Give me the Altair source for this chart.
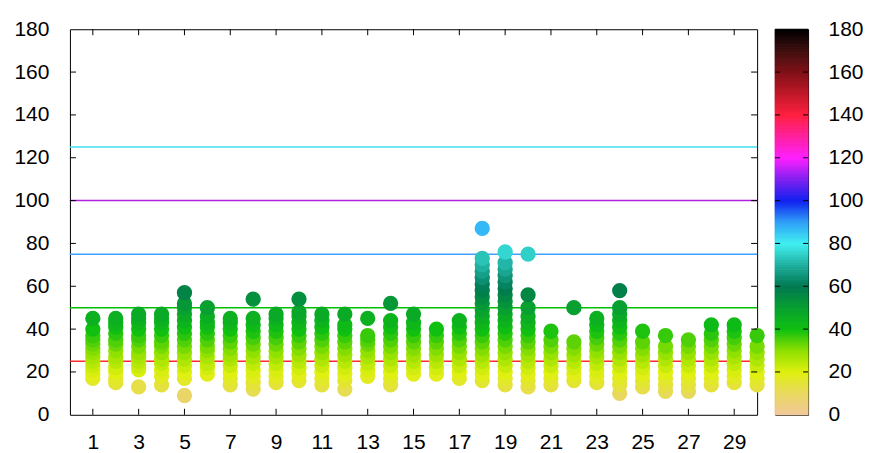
import altair as alt
import pandas as pd
import numpy as np

# ---- data ----
days = list(range(1, 31))
readings = [
    [17, 19, 21, 23, 25, 27, 29, 31, 33, 35, 37, 40, 45],             # 1
    [15, 17, 20, 22, 25, 27, 30, 33, 35, 38, 41, 43, 45],             # 2
    [13, 21, 23, 25, 27, 29, 32, 35, 37, 40, 43, 45, 47],             # 3
    [14, 18, 21, 24, 26, 29, 32, 34, 37, 40, 43, 45, 47],             # 4
    [9, 17, 20, 23, 26, 29, 32, 35, 38, 41, 44, 47, 50, 52, 57],      # 5
    [19, 22, 24, 27, 30, 32, 35, 38, 41, 43, 46, 50],                 # 6
    [14, 17, 20, 23, 26, 28, 31, 34, 37, 40, 43, 45],                 # 7
    [12, 15, 18, 21, 24, 27, 30, 33, 36, 39, 42, 45, 54],             # 8
    [15, 18, 21, 24, 27, 30, 33, 36, 39, 42, 45, 47],                 # 9
    [16, 19, 22, 25, 28, 31, 34, 37, 40, 43, 46, 48, 54],             # 10
    [14, 17, 20, 23, 26, 29, 32, 35, 38, 41, 44, 47],                 # 11
    [12, 16, 19, 22, 25, 28, 31, 34, 37, 40, 42, 47],                 # 12
    [18, 21, 24, 27, 30, 33, 35, 37, 45],                             # 13
    [14, 17, 20, 23, 26, 29, 32, 35, 38, 41, 44, 52],                 # 14
    [19, 22, 25, 28, 31, 34, 37, 40, 43, 47],                         # 15
    [19, 22, 25, 28, 31, 34, 37, 40],                                 # 16
    [17, 20, 23, 26, 29, 32, 35, 38, 41, 44],                         # 17
    [16, 19, 22, 25, 28, 31, 34, 37, 40, 43, 46, 49, 52, 55, 58, 61, 64, 67, 70, 73, 87],  # 18
    [14, 17, 20, 23, 26, 29, 32, 35, 38, 41, 44, 47, 50, 53, 56, 59, 62, 65, 68, 71, 76],  # 19
    [13, 16, 19, 22, 25, 28, 31, 34, 37, 40, 43, 46, 50, 56, 75],     # 20
    [14, 17, 20, 23, 26, 29, 32, 35, 39],                             # 21
    [16, 19, 22, 25, 28, 31, 34, 50],                                 # 22
    [15, 18, 21, 24, 27, 30, 33, 36, 39, 42, 45],                     # 23
    [10, 14, 17, 20, 23, 26, 29, 32, 35, 38, 41, 44, 47, 50, 58],     # 24
    [13, 16, 19, 22, 25, 28, 31, 34, 39],                             # 25
    [11, 14, 17, 20, 23, 26, 29, 32, 37],                             # 26
    [11, 14, 17, 20, 23, 26, 29, 32, 35],                             # 27
    [14, 17, 20, 23, 26, 29, 32, 35, 38, 42],                         # 28
    [15, 18, 21, 24, 27, 30, 33, 36, 39, 42],                         # 29
    [14, 17, 20, 23, 26, 29, 32, 37],                                 # 30
]

ref_levels = [25, 50, 75, 100, 125]
ref_colors = ["#ff2a2a", "#00c000", "#3fa0ff", "#b020e0", "#40e0f0"]

palette_stops = [0, 10, 20, 30, 40, 50, 60, 70, 80, 90, 100, 110, 120, 130, 140, 150, 160, 170, 180]
palette_colors = ["#f2c89c", "#e8d860", "#e0f010", "#90e000", "#10c010", "#08a030",
                  "#007850", "#20b0a0", "#40f0f0", "#30a0f8", "#1020f0", "#8020f0",
                  "#ff20ff", "#ff20a0", "#ff2040", "#c01828", "#801018", "#401010", "#000000"]

y_ticks = [0, 20, 40, 60, 80, 100, 120, 140, 160, 180]
inner_y_ticks = [20, 40, 60, 80, 100, 120, 140, 160]
x_ticks = [1, 3, 5, 7, 9, 11, 13, 15, 17, 19, 21, 23, 25, 27, 29]

# ---- tables ----
points = pd.DataFrame([{"day": d, "value": v} for d, vals in zip(days, readings) for v in vals])
lines = pd.DataFrame({"level": ref_levels, "col": ref_colors})
yt = pd.DataFrame({"t": inner_y_ticks})
xt = pd.DataFrame({"t": x_ticks})
steps = np.arange(0, 180, 1.0)
cbar_df = pd.DataFrame({"lo": steps, "hi": steps + 1, "mid": steps + 0.5})

W, H = 688, 386
CW = 33
FONT = "Liberation Sans"

color_scale = alt.Scale(domain=palette_stops, range=palette_colors, interpolate="rgb")
xs = alt.Scale(domain=[0, 30], nice=False, zero=False)
ys = alt.Scale(domain=[0, 180], nice=False)

x_axis = alt.Axis(values=x_ticks, title=None, grid=False, ticks=False, tickSize=0, domain=False,
                  labelFontSize=21, labelFont=FONT, labelColor="#000", labelPadding=17)
y_axis = alt.Axis(values=y_ticks, title=None, grid=False, ticks=False, tickSize=0, domain=False,
                  labelFontSize=21, labelFont=FONT, labelColor="#000", labelPadding=21)

hl = alt.Chart(lines).mark_rule(strokeWidth=1.5).encode(
    y=alt.Y("level:Q", scale=ys, axis=y_axis),
    color=alt.Color("col:N", scale=None),
)

pts = alt.Chart(points).mark_circle(size=235, opacity=1).encode(
    x=alt.X("day:Q", scale=xs, axis=x_axis),
    y=alt.Y("value:Q", scale=ys, axis=y_axis),
    color=alt.Color("value:Q", scale=color_scale, legend=None),
)

yl = alt.Chart(yt).mark_rule(color="black", strokeWidth=1).encode(
    y=alt.Y("t:Q", scale=ys, axis=y_axis), x=alt.value(0), x2=alt.value(6))
yr = alt.Chart(yt).mark_rule(color="black", strokeWidth=1).encode(
    y=alt.Y("t:Q", scale=ys, axis=y_axis), x=alt.value(W - 6), x2=alt.value(W))
xb = alt.Chart(xt).mark_rule(color="black", strokeWidth=1).encode(
    x=alt.X("t:Q", scale=xs, axis=x_axis), y=alt.value(H - 6), y2=alt.value(H))
xtp = alt.Chart(xt).mark_rule(color="black", strokeWidth=1).encode(
    x=alt.X("t:Q", scale=xs, axis=x_axis), y=alt.value(0), y2=alt.value(6))

main = alt.layer(hl, pts, yl, yr, xb, xtp).properties(width=W, height=H)

cb_axis = alt.Axis(values=y_ticks, orient="right", title=None, grid=False, ticks=False, tickSize=0,
                   domain=False, labelFontSize=21, labelFont=FONT, labelColor="#000", labelPadding=20)
cys = alt.Scale(domain=[0, 180], nice=False)

cb = alt.Chart(cbar_df).mark_rect(strokeWidth=1).encode(
    x=alt.value(0), x2=alt.value(CW),
    y=alt.Y("lo:Q", scale=cys, axis=cb_axis), y2="hi:Q",
    color=alt.Color("mid:Q", scale=color_scale, legend=None),
    stroke=alt.Stroke("mid:Q", scale=color_scale, legend=None),
)
cbl = alt.Chart(yt).mark_rule(color="black", strokeWidth=1).encode(
    y=alt.Y("t:Q", scale=cys, axis=cb_axis), x=alt.value(0), x2=alt.value(5))
cbr = alt.Chart(yt).mark_rule(color="black", strokeWidth=1).encode(
    y=alt.Y("t:Q", scale=cys, axis=cb_axis), x=alt.value(CW - 5), x2=alt.value(CW))

cbar = alt.layer(cb, cbl, cbr).properties(width=CW, height=H)

chart = alt.hconcat(main, cbar, spacing=18, bounds="flush").configure_view(
    stroke="#000", strokeWidth=1
).properties(padding={"left": 5, "top": 9, "right": 0, "bottom": 5})

chart.save("out.html", embed_options={"renderer": "svg", "actions": False})
